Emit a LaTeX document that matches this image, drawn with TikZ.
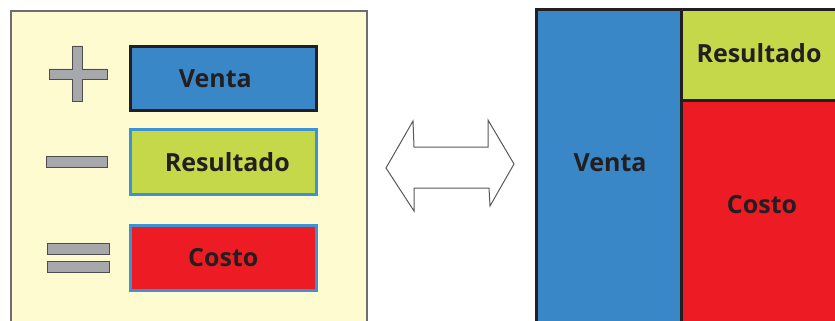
\documentclass[tikz,border=0pt]{standalone}
\usepackage{fontspec}
\setmainfont{Open Sans}
\definecolor{panelbg}{HTML}{FFFBD0}
\definecolor{panelline}{HTML}{6D6E70}
\definecolor{ventablue}{HTML}{3A87C8}
\definecolor{edgeblue}{HTML}{3C92D4}
\definecolor{resgreen}{HTML}{C5D84A}
\definecolor{costred}{HTML}{ED1C24}
\definecolor{ink}{HTML}{231F20}
\definecolor{signgray}{HTML}{A7A8AC}
\tikzset{
  lbl/.style={font=\bfseries\fontsize{25}{30}\selectfont, text=ink},
  signbar/.style={fill=signgray, draw=ink!80, line width=0.9pt},
  leftbox/.style={line width=2.6pt},
  rightbox/.style={draw=ink, line width=3pt},
}
\begin{document}
\begin{tikzpicture}[x=1pt,y=-1pt]
\useasboundingbox (0,0) rectangle (835,321);
% left panel
\path[fill=panelbg, draw=panelline, line width=1.4pt] (11,11) rectangle (367,330);
% signs
\path[signbar] (72,46) -- (82,46) -- (82,69) -- (107,69) -- (107,79) -- (82,79)
  -- (82,101) -- (72,101) -- (72,79) -- (49,79) -- (49,69) -- (72,69) -- cycle;
\path[signbar] (46,156) rectangle (107,167);
\path[signbar] (47,243) rectangle (109,254);
\path[signbar] (47,261) rectangle (109,272);
% left boxes
\node[leftbox, draw=ink, fill=ventablue, minimum width=186pt, minimum height=64pt, inner sep=0pt, anchor=north west] (lventa) at (129,45) {};
\node[lbl, xshift=-8pt] (lventat) at (lventa.center) {Venta};
\node[leftbox, draw=edgeblue, fill=resgreen, minimum width=186pt, minimum height=65pt, inner sep=0pt, anchor=north west] (lres) at (129,128) {};
\node[lbl, xshift=4pt] (lrest) at (lres.center) {Resultado};
\node[leftbox, draw=edgeblue, fill=costred, minimum width=186pt, minimum height=65pt, inner sep=0pt, anchor=north west] (lcost) at (129,224) {};
\node[lbl] (lcostt) at (lcost.center) {Costo};
% double arrow
\draw[draw=ink!75, line width=1pt, fill=white, line join=miter]
  (386,168) -- (413,121) -- (414,147) -- (488,147) -- (488,120) -- (514,164)
  -- (490,206) -- (489,188) -- (414,188) -- (414,211) -- cycle;
% right panel
\node[rightbox, fill=ventablue, minimum width=147pt, minimum height=330pt, inner sep=0pt, anchor=north west] (rventa) at (535,8) {};
\node[rightbox, fill=resgreen, minimum width=170pt, minimum height=91pt, inner sep=0pt, anchor=north west] (rres) at (680,8) {};
\node[rightbox, fill=costred, minimum width=170pt, minimum height=240pt, inner sep=0pt, anchor=north west] (rcost) at (680,99) {};
\node[lbl] (rventat) at (610,163) {Venta};
\node[lbl] (rrest) at (759,53) {Resultado};
\node[lbl] (rcostt) at (762,205) {Costo};
\end{tikzpicture}
\end{document}
